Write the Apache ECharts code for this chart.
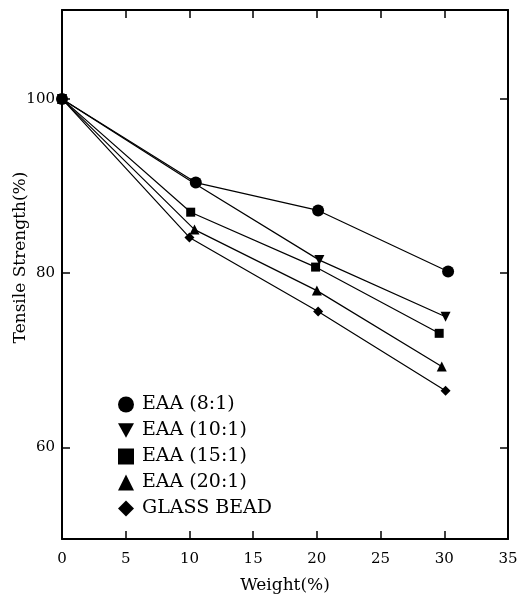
<!DOCTYPE html>
<html><head><meta charset="utf-8">
<script src="https://cdn.jsdelivr.net/npm/echarts@6/dist/echarts.min.js"></script>
<style>html,body{margin:0;padding:0;background:#fff}#c{width:532px;height:597px}</style>
</head><body><div id="c"></div>
<script>
var seriesNames = ['EAA (8:1)', 'EAA (10:1)', 'EAA (15:1)', 'EAA (20:1)', 'GLASS BEAD'];
var weightX = [
  [0, 10.5, 20.1, 30.3],
  [0, 10.4, 20.2, 30.1],
  [0, 10.1, 19.9, 29.6],
  [0, 10.4, 20.0, 29.8],
  [0, 10.0, 20.1, 30.1]
];
var strengthY = [
  [100, 90.4, 87.2, 80.2],
  [100, 90.3, 81.5, 75.0],
  [100, 87.0, 80.7, 73.1],
  [100, 85.0, 78.0, 69.3],
  [100, 84.1, 75.6, 66.5]
];
var xTicks = [0, 5, 10, 15, 20, 25, 30, 35];
var yTicks = [60, 80, 100];

var symbols = ['circle', 'path://M0,0 L10,0 L5,9 Z', 'rect', 'triangle', 'diamond'];
var symbolSizes = [12, 10, 9, 10, 10];
var font = 'DejaVu Serif';

var series = seriesNames.map(function (n, i) {
  return {
    name: n, type: 'line', symbol: symbols[i], symbolSize: symbolSizes[i],
    showAllSymbol: true,
    lineStyle: {color: '#000', width: 1.2},
    itemStyle: {color: '#000'},
    data: weightX[i].map(function (x, j) { return [x, strengthY[i][j]]; }),
    z: 5 - i
  };
});

function blank() { return ''; }

function xAx(pos, labels) {
  return {
    type: 'value', position: pos, min: 0, max: 35,
    axisLine: {show: true, lineStyle: {color: '#000', width: 2}},
    axisTick: {show: true, inside: true, length: 8, customValues: xTicks.slice(1, 7), lineStyle: {color: '#000', width: 1.5}},
    axisLabel: {show: true, formatter: labels ? null : blank, customValues: xTicks, color: '#000', fontFamily: font, fontSize: 15, margin: 13},
    splitLine: {show: false},
    name: labels ? 'Weight(%)' : '', nameLocation: 'middle', nameGap: 38, nameMoveOverlap: false,
    nameTextStyle: {color: '#000', fontFamily: font, fontSize: 17}
  };
}
function yAx(labels) {
  return {
    type: 'value', position: 'left', offset: labels ? 0 : -446, min: 49.5, max: 110.2,
    axisLine: {show: true, lineStyle: {color: '#000', width: 2}},
    axisTick: {show: true, inside: labels, length: 8, customValues: yTicks, lineStyle: {color: '#000', width: 1.5}},
    axisLabel: {show: true, formatter: labels ? null : blank, customValues: yTicks, color: '#000', fontFamily: font, fontSize: 15, margin: 7},
    splitLine: {show: false},
    name: labels ? 'Tensile Strength(%)' : '', nameLocation: 'middle', nameGap: 33, nameMoveOverlap: false,
    nameTextStyle: {color: '#000', fontFamily: font, fontSize: 17, padding: [0, 0, 0, 34]}
  };
}

var chart = echarts.init(document.getElementById('c'), null, {renderer: 'canvas'});
chart.setOption({
  backgroundColor: '#fff',
  animation: false,
  grid: {left: 62, right: 24, top: 10, bottom: 58, outerBoundsMode: 'none', containLabel: false},
  xAxis: [xAx('bottom', true), xAx('top', false)],
  yAxis: [yAx(true), yAx(false)],
  legend: {
    orient: 'vertical', left: 113, top: 390, itemGap: 7,
    itemWidth: 16, itemHeight: 16,
    data: seriesNames.map(function (n, i) { return {name: n, icon: symbols[i]}; }),
    textStyle: {color: '#000', fontFamily: font, fontSize: 19, padding: [0, 0, 0, 3]},
    itemStyle: {color: '#000'}
  },
  series: series
});
</script></body></html>
